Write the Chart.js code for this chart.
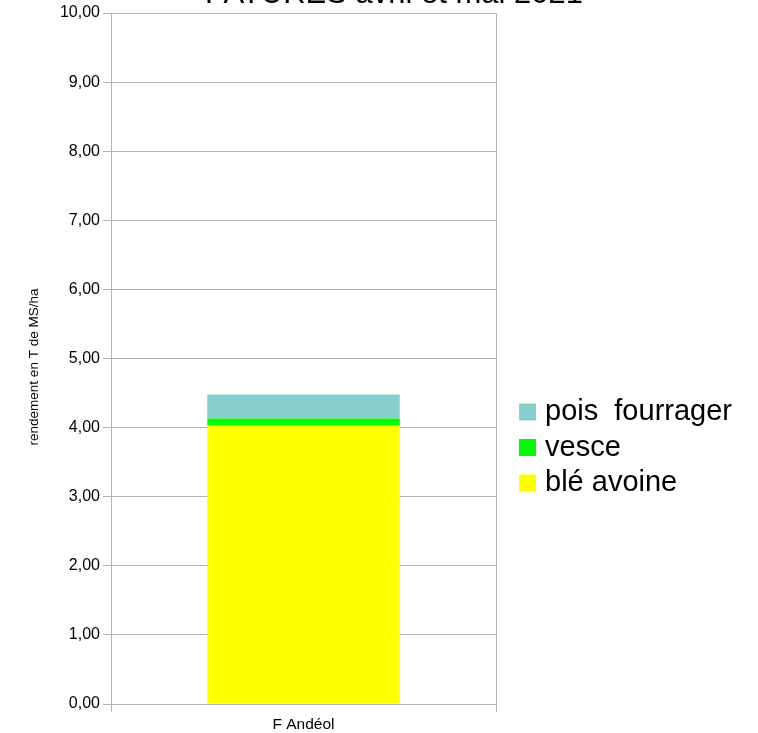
<!DOCTYPE html>
<html>
<head>
<meta charset="utf-8">
<script src="https://cdn.jsdelivr.net/npm/chart.js@4"></script>
<style>
  html, body { margin: 0; padding: 0; background: #fff; }
  #wrap { width: 758px; height: 733px; }
</style>
</head>
<body>
<div id="wrap"><canvas id="paturesChart" width="758" height="733"></canvas></div>
<script>
const titleText = 'PATURES avril et mai 2021';
const categories = ['F Andéol'];
const bleAvoine = [4.03];
const vesce = [0.10];
const poisFourrager = [0.35];
const yTitle = 'rendement en T de MS/ha';

const FONT = '"Liberation Sans", Arial, sans-serif';

// title sits partly above the canvas edge, so draw it by hand
// (same for the y title, which is a bit below the axis centre)
const textPlugin = {
  id: 'extraText',
  afterDraw(chart) {
    const c = chart.ctx;
    c.save();
    c.font = '31px ' + FONT;
    c.fillStyle = '#000';
    c.textAlign = 'center';
    c.textBaseline = 'alphabetic';
    c.fillText(titleText, 394, 3);

    c.translate(34, 367);
    c.rotate(-Math.PI / 2);
    c.font = '13.5px ' + FONT;
    c.textBaseline = 'middle';
    c.fillText(yTitle, 0, 0);
    c.restore();
  }
};

// legend on the right, top item first
const sideLegend = {
  id: 'sideLegend',
  afterDraw(chart) {
    const c = chart.ctx;
    const sets = chart.data.datasets.slice().reverse();
    c.save();
    c.font = '29px ' + FONT;
    c.textBaseline = 'middle';
    c.textAlign = 'left';
    sets.forEach((ds, i) => {
      const cy = 412 + i * 35.5;
      c.fillStyle = ds.backgroundColor;
      c.fillRect(519, cy - 8.5, 17, 17);
      c.fillStyle = '#000';
      c.fillText(ds.label, 545, cy);
    });
    c.restore();
  }
};

const ctx = document.getElementById('paturesChart').getContext('2d');
new Chart(ctx, {
  type: 'bar',
  data: {
    labels: categories,
    datasets: [
      { label: 'blé avoine', data: bleAvoine, backgroundColor: '#ffff00' },
      { label: 'vesce', data: vesce, backgroundColor: '#00ff00' },
      { label: 'pois  fourrager', data: poisFourrager, backgroundColor: '#87cfcd' }
    ]
  },
  options: {
    responsive: false,
    animation: false,
    layout: { padding: { top: 13, right: 262, bottom: 0, left: 0 } },
    plugins: {
      legend: { display: false },
      tooltip: { enabled: false },
      title: { display: false }
    },
    datasets: {
      bar: { barPercentage: 0.5, categoryPercentage: 1.0 }
    },
    scales: {
      x: {
        stacked: true,
        grid: { color: '#b3b3b3', offset: true, tickLength: 8 },
        border: { color: '#b3b3b3' },
        ticks: { color: '#000', font: { family: FONT, size: 15.5 }, padding: 3 },
        afterFit(s) { s.height = 29; }
      },
      y: {
        stacked: true,
        min: 0,
        max: 10,
        grid: { color: '#b3b3b3', tickLength: 8 },
        border: { color: '#b3b3b3' },
        ticks: {
          stepSize: 1,
          color: '#000',
          font: { family: FONT, size: 16 },
          padding: 3,
          callback: v => v.toFixed(2).replace('.', ',')
        },
        afterFit(s) { s.width = 111; }
      }
    }
  },
  plugins: [textPlugin, sideLegend]
});
</script>
</body>
</html>
